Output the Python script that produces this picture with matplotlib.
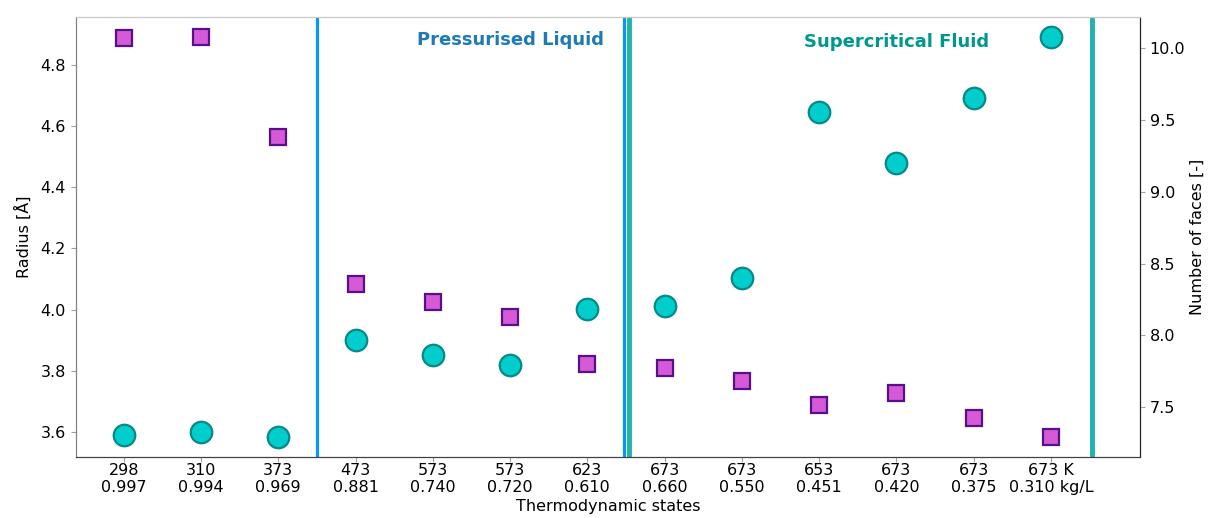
import numpy as np
import matplotlib.pyplot as plt

# thermodynamic states (T in K, density in kg/L)
temps = ['298', '310', '373', '473', '573', '573', '623', '673', '673', '653', '673', '673', '673 K']
dens = ['0.997', '0.994', '0.969', '0.881', '0.740', '0.720', '0.610', '0.660', '0.550',
        '0.451', '0.420', '0.375', '0.310 kg/L']

# radius (left axis, circles)
radius = [3.590, 3.598, 3.583, 3.899, 3.850, 3.819, 4.001, 4.011, 4.104,
          4.647, 4.481, 4.693, 4.892]
# number of faces (right axis, squares)
faces = [10.073, 10.079, 9.381, 8.359, 8.235, 8.130, 7.800, 7.770, 7.682,
         7.514, 7.598, 7.423, 7.292]

# region boundaries
blue_lines = [2.5, 6.47]
teal_lines = [6.545, 12.53]

fs = 11.5

fig = plt.figure(figsize=(12.1, 5.18), dpi=100)
ax1 = fig.add_axes([0.0626, 0.118, 0.8795, 0.849])
ax2 = ax1.twinx()

x = np.arange(len(temps))

for xl in blue_lines:
    ax1.axvline(xl, color='#0a96f5', lw=2.3, zorder=1)
for xl in teal_lines:
    ax1.axvline(xl, color='#1fb3aa', lw=3.5, zorder=1)

ax1.plot(x, radius, linestyle='None', marker='o', markersize=15.5,
         markerfacecolor='#00cdcc', markeredgecolor='#078a86', markeredgewidth=1.6, zorder=3)
ax2.plot(x, faces, linestyle='None', marker='s', markersize=12,
         markerfacecolor='#d65ad8', markeredgecolor='#56108a', markeredgewidth=1.6, zorder=3)

ax1.text(5.0, 0.947, 'Pressurised Liquid', transform=ax1.get_xaxis_transform(),
         ha='center', va='center', fontsize=13, fontweight='bold', color='#1f7ab5')
ax1.text(10.0, 0.944, 'Supercritical Fluid', transform=ax1.get_xaxis_transform(),
         ha='center', va='center', fontsize=13, fontweight='bold', color='#00978e')

ax1.set_xlim(-0.62, 13.15)
ax1.set_xticks(x)
ax1.set_xticklabels(['{0}\n{1}'.format(t, d) for t, d in zip(temps, dens)], fontsize=fs)
for lab in ax1.get_xticklabels():
    lab.set_linespacing(1.12)
ax1.tick_params(axis='x', pad=1)
ax1.set_yticks([3.6, 3.8, 4.0, 4.2, 4.4, 4.6, 4.8])
ax1.set_yticklabels(['3.6', '3.8', '4.0', '4.2', '4.4', '4.6', '4.8'], fontsize=fs)
ax2.set_yticks([7.5, 8.0, 8.5, 9.0, 9.5, 10.0])
ax2.set_yticklabels(['7.5', '8.0', '8.5', '9.0', '9.5', '10.0'], fontsize=fs)

ax1.set_xlabel('Thermodynamic states', fontsize=fs, labelpad=3)
ax1.set_ylabel('Radius [Å]', fontsize=fs, labelpad=6)
ax2.set_ylabel('Number of faces [-]', fontsize=fs, labelpad=3)

for ax in (ax1, ax2):
    ax.spines['top'].set_color('#c8c8c8')
    ax.spines['left'].set_color('#808080')
    ax.spines['bottom'].set_color('#404040')
    ax.spines['right'].set_color('#202020')
    ax.tick_params(color='#a0a0a0')

fig.savefig('out.png', dpi=100)
plt.close(fig)
